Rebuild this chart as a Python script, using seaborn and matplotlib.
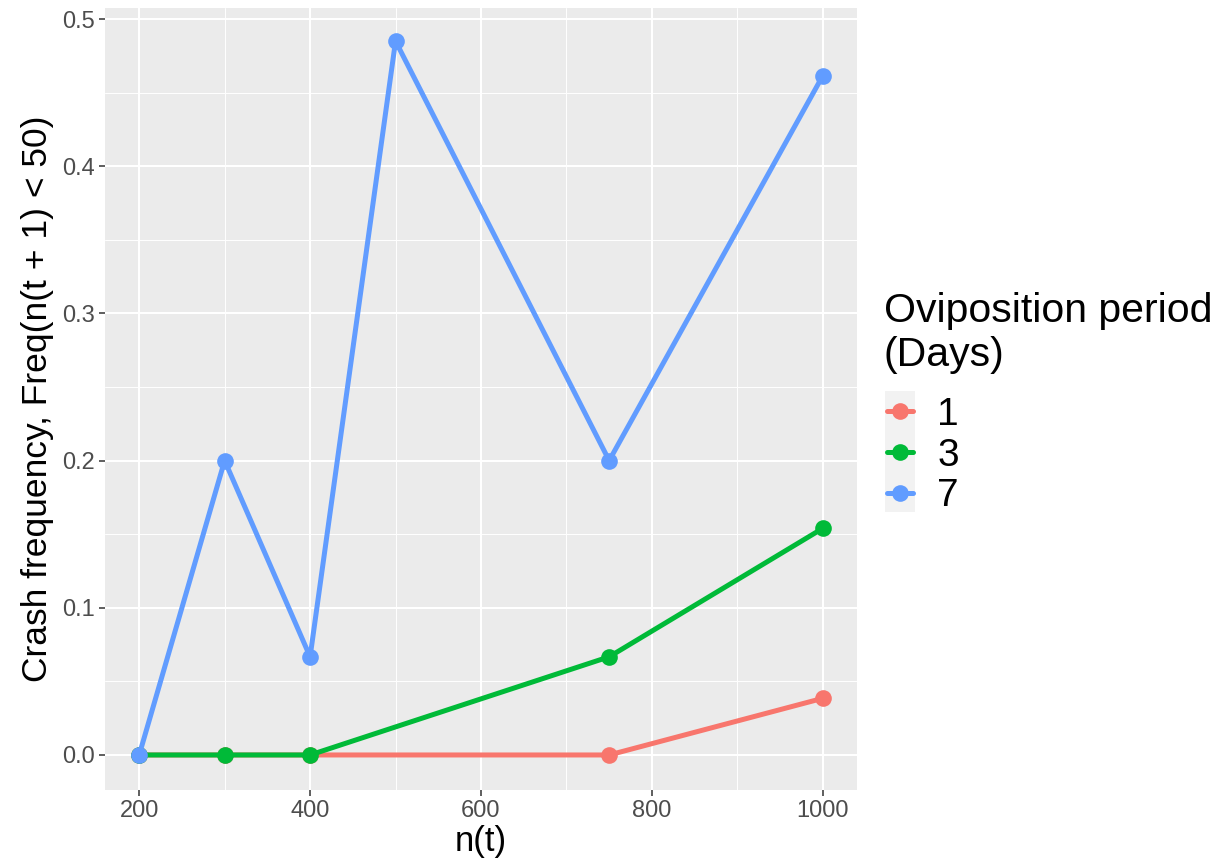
import matplotlib
matplotlib.use("Agg")
import matplotlib.pyplot as plt
import seaborn as sns
import pandas as pd
from matplotlib.patches import Rectangle
from matplotlib.ticker import MultipleLocator

n_values = [200, 300, 400, 500, 750, 1000]
period_1_x = [200, 300, 400, 750, 1000]
period_1_y = [0.0, 0.0, 0.0, 0.0, 0.0385]
period_3_x = [200, 300, 400, 750, 1000]
period_3_y = [0.0, 0.0, 0.0, 0.0667, 0.154]
period_7_x = [200, 300, 400, 500, 750, 1000]
period_7_y = [0.0, 0.2, 0.0667, 0.485, 0.2, 0.4615]
periods = ["1", "3", "7"]
colors = ["#F8766D", "#00BA38", "#619CFF"]
x_ticks = [200, 400, 600, 800, 1000]
y_ticks = [0.0, 0.1, 0.2, 0.3, 0.4, 0.5]

df = pd.concat([
    pd.DataFrame({"n": period_1_x, "freq": period_1_y, "period": "1"}),
    pd.DataFrame({"n": period_3_x, "freq": period_3_y, "period": "3"}),
    pd.DataFrame({"n": period_7_x, "freq": period_7_y, "period": "7"}),
])

sns.set_theme(style="darkgrid")
plt.rcParams["font.family"] = ["Liberation Sans", "DejaVu Sans"]
plt.rcParams["text.color"] = "black"

fig = plt.figure(figsize=(12.25, 8.6), dpi=100)
ax = fig.add_axes([105/1225, 1-790/860, (857-105)/1225, (790-8)/860])
ax.set_facecolor("#EBEBEB")

sns.lineplot(data=df, x="n", y="freq", hue="period", hue_order=periods,
             palette=dict(zip(periods, colors)), marker="o", markersize=12,
             markeredgewidth=0, linewidth=3.6, ax=ax, legend=False)

ax.set_xlim(160, 1040)
ax.set_ylim(-0.0238, 0.5075)
ax.xaxis.set_minor_locator(MultipleLocator(100))
ax.yaxis.set_minor_locator(MultipleLocator(0.05))
ax.set_xticks(x_ticks)
ax.set_xticklabels([str(v) for v in x_ticks])
ax.set_yticks(y_ticks)
ax.set_yticklabels([f"{v:.1f}" for v in y_ticks])
ax.grid(which="major", color="white", linewidth=1.5)
ax.grid(which="minor", color="white", linewidth=0.7)
ax.set_axisbelow(True)
for s in ax.spines.values():
    s.set_visible(False)
ax.tick_params(axis="both", which="major", length=4, width=1.1, color="#333333",
               labelsize=17, labelcolor="#4D4D4D", pad=3, bottom=True, left=True)
ax.tick_params(axis="both", which="minor", length=0)

ax.set_xlabel("n(t)", fontsize=25, color="black", labelpad=2)
ax.set_ylabel("Crash frequency, Freq(n(t + 1) < 50)", fontsize=25.5, color="black", labelpad=6)

# legend title
fig.text(884/1225, 1-292/860, "Oviposition period\n(Days)", fontsize=29.5,
         color="black", ha="left", va="top", linespacing=1.2)

# legend entries
handles = [plt.Line2D([], [], color=c, linewidth=3.6, marker="o", markersize=12,
                      markeredgewidth=0) for c in colors]
leg = fig.legend(handles, periods, loc="upper left",
                 bbox_to_anchor=(887/1225, 1-397/860),
                 frameon=False, fontsize=28, borderpad=0,
                 handlelength=0.67, handletextpad=0.62, labelspacing=0.12,
                 borderaxespad=0)
for t in leg.get_texts():
    t.set_color("black")
fig.patches.append(Rectangle((885/1225, 1-512/860), 30/1225, 121/860,
                             transform=fig.transFigure, facecolor="#F2F2F2",
                             edgecolor="none", zorder=0))

fig.savefig("out.png", dpi=100, facecolor="white")
